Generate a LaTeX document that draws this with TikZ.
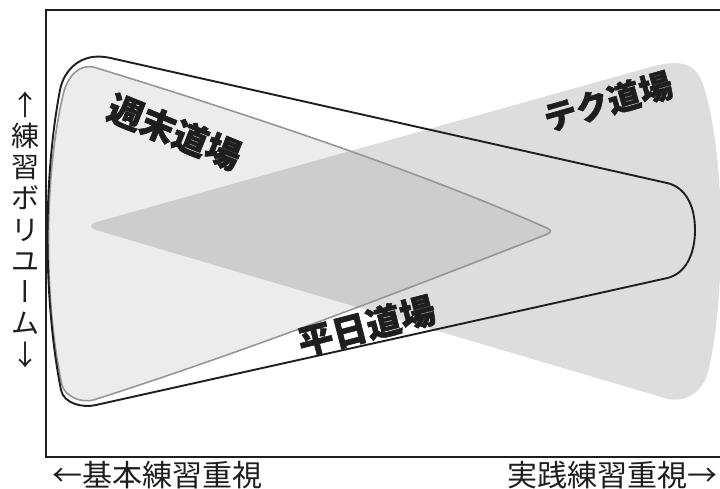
\documentclass[tikz,border=0pt]{standalone}
\usepackage{fontspec}
\newfontfamily\cjk{Noto Sans CJK JP}
\newfontfamily\cjkheavy{Noto Sans CJK JP}[BoldFeatures={FakeBold=1.6}]
\newfontfamily\cjkv[RawFeature=+vert]{Noto Sans CJK JP}
\definecolor{tekfill}{RGB}{221,221,221}
\definecolor{shufill}{RGB}{236,236,236}
\definecolor{ovfill}{RGB}{205,205,205}
\definecolor{shugray}{RGB}{150,150,150}
\definecolor{inkc}{RGB}{30,30,30}
\tikzset{
  axisline/.style={draw=inkc, line width=2pt},
  heiedge/.style={draw=inkc, line width=1.9pt},
  shuedge/.style={draw=shugray, line width=1.6pt},
  biglabel/.style={font=\cjkheavy\bfseries\fontsize{35}{40}\selectfont, text=inkc, inner sep=0pt},
  axislabel/.style={font=\cjk\fontsize{30}{36}\selectfont, text=inkc, inner sep=0pt},
}
\def\pathW{(95,67.5) .. controls (250,115) and (420,172) .. (540,225) .. controls (554,230.7) and (554,231.9) .. (540,237) .. controls (420,284) and (250,350) .. (95,399.5) .. controls (80,404.3) and (64.1,395) .. (62,385) .. controls (43.8,300) and (43.8,178) .. (63,95) .. controls (67.5,75.5) and (80,63.1) .. (95,67.5) -- cycle}
\def\pathH{(110,57.9) -- (667,183) .. controls (685,187) and (695,205) .. (695,230) .. controls (695,255) and (685,274) .. (667,278.1) -- (95,405.2) .. controls (83,407.9) and (63.7,403.7) .. (61,390) .. controls (43.2,300) and (43.2,178) .. (60,90) .. controls (63.8,70.4) and (80.7,51.3) .. (110,57.9) -- cycle}
\def\pathT{(97.7,230.5) .. controls (88.5,227.8) and (88.6,224.3) .. (97.8,221.7) -- (650,67.1) .. controls (679.6,58.8) and (695.2,63.3) .. (702,82) .. controls (714,115) and (721,175) .. (721,232) .. controls (721,290) and (716,340) .. (708,372) .. controls (703,392) and (685,404.1) .. (665,398.2) -- cycle}
\begin{document}
\begin{tikzpicture}[x=1pt, y=-1pt]
\useasboundingbox (0,0) rectangle (720,489);
% shapes
\fill[tekfill] \pathT;
\fill[shufill] \pathW;
\begin{scope}
  \clip \pathT;
  \fill[ovfill] \pathW;
\end{scope}
\draw[shuedge] \pathW;
\draw[heiedge] \pathH;
% labels in shapes
\node[biglabel, rotate=-22] (shu) at (174.5,132) {週末道場};
\node[biglabel, font=\cjkheavy\bfseries\fontsize{33}{40}\selectfont, rotate=16] (tek) at (608,101.5) {テク道場};
\node[biglabel, rotate=14.5] (hei) at (366.5,326) {平日道場};
% axes
\coordinate (tr) at (720,10.3);
\coordinate (tl) at (46,10.3);
\coordinate (bl) at (46,456.7);
\coordinate (br) at (720,456.7);
\draw[axisline] (tr) -- (tl) -- (bl) -- (br);
% axis labels
\node[axislabel, anchor=west] (xl) at (52,475) {←基本練習重視};
\node[axislabel, anchor=east] (xr) at (718,475) {実践練習重視→};
\node[axislabel, font=\cjk\fontsize{28}{31.25}\selectfont, align=center] (yl) at (25.5,229.5) {↑\\練\\習\\ボ\\リ\\ユ\\{\cjkv ー}\\ム\\↓};
\end{tikzpicture}
\end{document}
